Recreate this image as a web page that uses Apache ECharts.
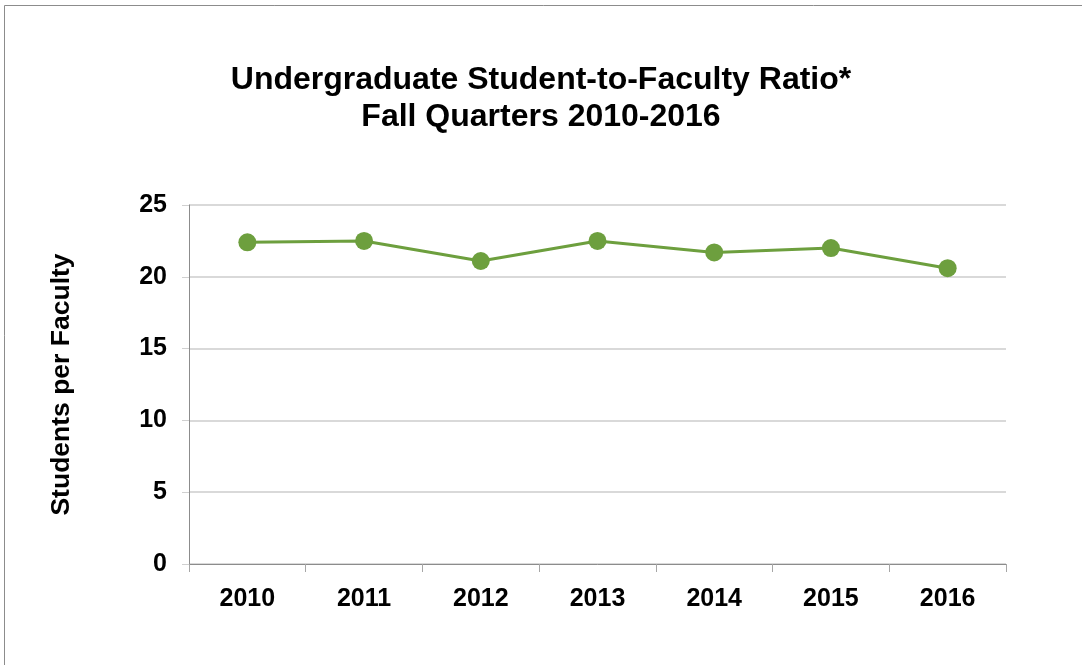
<!DOCTYPE html>
<html>
<head>
<meta charset="utf-8">
<script src="https://cdn.jsdelivr.net/npm/echarts@6/dist/echarts.min.js"></script>
<style>
  html, body { margin: 0; padding: 0; background: #fff; }
  #main { width: 1082px; height: 665px; }
</style>
</head>
<body>
<div id="main"></div>
<script>
const years = ['2010', '2011', '2012', '2013', '2014', '2015', '2016']
const ratio = [22.4, 22.5, 21.1, 22.5, 21.7, 22.0, 20.6]
const yTicks = { min: 0, max: 25, interval: 5 }

const chartDom = document.getElementById('main')
const myChart = echarts.init(chartDom, null, { width: 1082, height: 665 })

const font = 'Liberation Sans, Arial, sans-serif'

const option = {
    animation: false,
    backgroundColor: '#fff',
    title: {
        left: 'center',
        top: 57,
        text: 'Undergraduate Student-to-Faculty Ratio*\nFall Quarters 2010-2016',
        textStyle: {
            fontFamily: font,
            fontWeight: 'bold',
            fontSize: 32,
            lineHeight: 37,
            color: '#000'
        }
    },
    // outer chart border, only top and left show in the picture
    graphic: [{
        type: 'rect',
        shape: { x: 4.5, y: 5.5, width: 1200, height: 1000 },
        style: { fill: 'none', stroke: '#8c8c8c', lineWidth: 1 },
        silent: true
    }],
    grid: {
        left: 189,
        right: 76,
        top: 205,
        bottom: 101
    },
    xAxis: {
        type: 'category',
        data: years,
        boundaryGap: true,
        axisLine: { lineStyle: { color: '#8c8c8c', width: 1 } },
        axisTick: { show: true, length: 8, lineStyle: { color: '#a6a6a6' } },
        axisLabel: {
            margin: 23,
            fontFamily: font,
            fontWeight: 'bold',
            fontSize: 25,
            color: '#000'
        }
    },
    yAxis: {
        type: 'value',
        min: yTicks.min,
        max: yTicks.max,
        interval: yTicks.interval,
        name: 'Students per Faculty',
        nameLocation: 'middle',
        nameGap: 114,
        nameTextStyle: {
            fontFamily: font,
            fontWeight: 'bold',
            fontSize: 26.5,
            color: '#000'
        },
        axisLine: { show: true, lineStyle: { color: '#8c8c8c', width: 1 } },
        axisTick: { show: true, length: 7, lineStyle: { color: '#d0d0d0' } },
        splitLine: { lineStyle: { color: '#d9d9d9', width: 2 } },
        axisLabel: {
            margin: 22,
            fontFamily: font,
            fontWeight: 'bold',
            fontSize: 25,
            color: '#000'
        }
    },
    series: [
        {
            name: 'Ratio',
            type: 'line',
            data: ratio,
            symbol: 'circle',
            symbolSize: 18,
            itemStyle: { color: '#6d9f3e' },
            lineStyle: { color: '#6d9f3e', width: 3 }
        }
    ]
}

option && myChart.setOption(option)
</script>
</body>
</html>
